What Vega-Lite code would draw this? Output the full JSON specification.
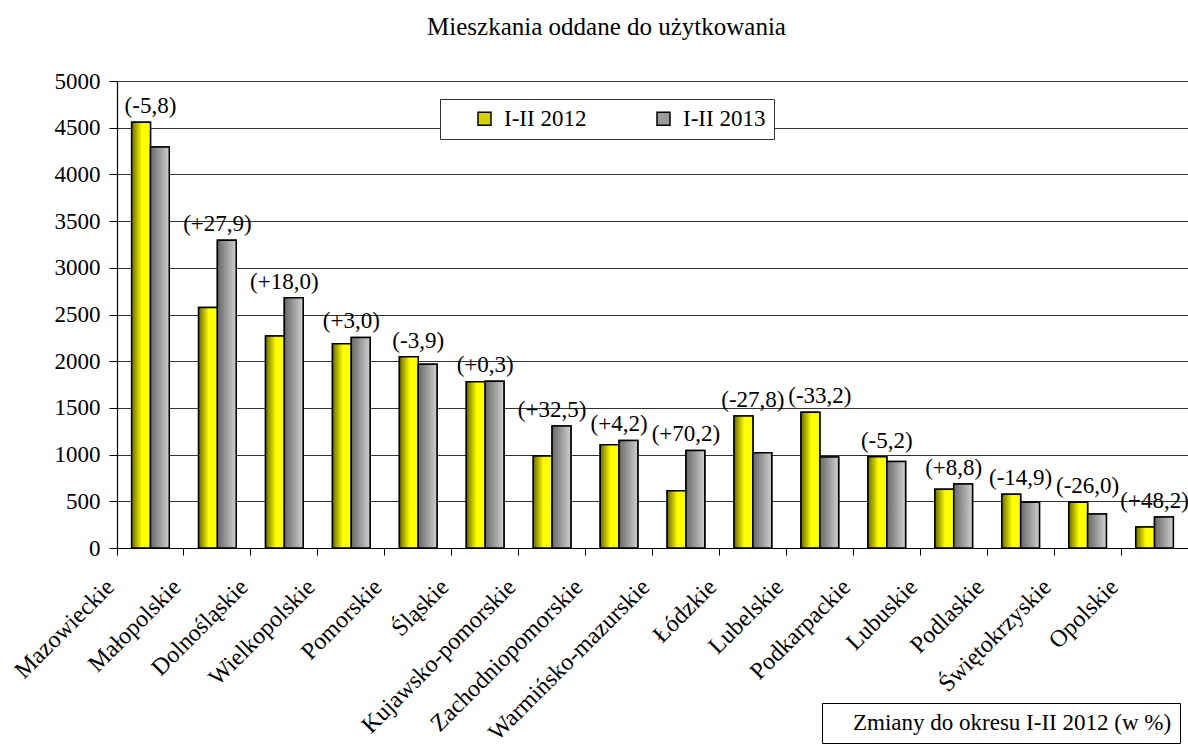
{
  "$schema": "https://vega.github.io/schema/vega-lite/v6.json",
  "width": 1071,
  "height": 467,
  "autosize": {"type": "none"},
  "padding": {"left": 117, "top": 81, "right": 0, "bottom": 201},
  "background": "white",
  "config": {
    "view": {"stroke": null},
    "font": "Liberation Serif",
    "text": {"font": "Liberation Serif"},
    "axis": {"labelFont": "Liberation Serif", "titleFont": "Liberation Serif"},
    "legend": {"labelFont": "Liberation Serif", "titleFont": "Liberation Serif"}
  },
  "title": {
    "text": "Mieszkania oddane do użytkowania",
    "font": "Liberation Serif",
    "fontSize": 25,
    "fontWeight": "normal",
    "color": "black",
    "anchor": "middle",
    "baseline": "alphabetic",
    "offset": 10,
    "dx": -46
  },
  "data": {
    "values": [
      {"region": "Mazowieckie", "y2012": 4558, "y2013": 4294, "change": "(-5,8)"},
      {"region": "Małopolskie", "y2012": 2575, "y2013": 3294, "change": "(+27,9)"},
      {"region": "Dolnośląskie", "y2012": 2270, "y2013": 2679, "change": "(+18,0)"},
      {"region": "Wielkopolskie", "y2012": 2188, "y2013": 2254, "change": "(+3,0)"},
      {"region": "Pomorskie", "y2012": 2048, "y2013": 1968, "change": "(-3,9)"},
      {"region": "Śląskie", "y2012": 1781, "y2013": 1786, "change": "(+0,3)"},
      {"region": "Kujawsko-pomorskie", "y2012": 985, "y2013": 1305, "change": "(+32,5)"},
      {"region": "Zachodniopomorskie", "y2012": 1106, "y2013": 1152, "change": "(+4,2)"},
      {"region": "Warmińsko-mazurskie", "y2012": 614, "y2013": 1045, "change": "(+70,2)"},
      {"region": "Łódzkie", "y2012": 1413, "y2013": 1020, "change": "(-27,8)"},
      {"region": "Lubelskie", "y2012": 1453, "y2013": 975, "change": "(-33,2)"},
      {"region": "Podkarpackie", "y2012": 978, "y2013": 927, "change": "(-5,2)"},
      {"region": "Lubuskie", "y2012": 630, "y2013": 685, "change": "(+8,8)"},
      {"region": "Podlaskie", "y2012": 575, "y2013": 489, "change": "(-14,9)"},
      {"region": "Świętokrzyskie", "y2012": 490, "y2013": 363, "change": "(-26,0)"},
      {"region": "Opolskie", "y2012": 225, "y2013": 333, "change": "(+48,2)"}
    ]
  },
  "encoding": {
    "x": {
      "field": "region",
      "type": "nominal",
      "sort": null,
      "scale": {"paddingInner": 0, "paddingOuter": 0},
      "axis": {
        "title": null,
        "bandPosition": 0,
        "labelAngle": -45,
        "labelAlign": "right",
        "labelBaseline": "middle",
        "labelFont": "Liberation Serif",
        "labelFontSize": 24,
        "labelColor": "black",
        "labelPadding": 28,
        "labelOffset": -40,
        "labelOverlap": false,
        "labelLimit": 400,
        "domainColor": "black",
        "domainWidth": 1.2,
        "tickColor": "black",
        "tickSize": 7,
        "grid": false
      }
    }
  },
  "layer": [
    {
      "transform": [
        {"fold": ["y2012", "y2013"], "as": ["key", "value"]},
        {"calculate": "datum.key === 'y2012' ? 'I-II 2012' : 'I-II 2013'", "as": "series"}
      ],
      "mark": {"type": "bar", "stroke": "black", "strokeWidth": 1.5},
      "encoding": {
        "xOffset": {
          "field": "series",
          "type": "nominal",
          "scale": {"domain": ["I-II 2012", "I-II 2013"], "paddingInner": 0, "paddingOuter": 0.78}
        },
        "y": {
          "field": "value",
          "type": "quantitative",
          "scale": {"domain": [0, 5000], "nice": false},
          "axis": {
            "title": null,
            "values": [0, 500, 1000, 1500, 2000, 2500, 3000, 3500, 4000, 4500, 5000],
            "format": "d",
            "labelFont": "Liberation Serif",
            "labelFontSize": 23,
            "labelColor": "black",
            "labelPadding": 9,
            "domainColor": "black",
            "domainWidth": 1.2,
            "tickColor": "black",
            "tickSize": 8,
            "grid": true,
            "gridColor": "#333333",
            "gridWidth": 1
          }
        },
        "color": {
          "field": "series",
          "type": "nominal",
          "scale": {
            "domain": ["I-II 2012", "I-II 2013"],
            "range": ["#d2d200", "#9c9c9c"]
          },
          "legend": {
            "title": null,
            "orient": "none",
            "legendX": 323,
            "legendY": 18,
            "direction": "horizontal",
            "fillColor": "white",
            "strokeColor": "#333333",
            "padding": 8,
            "symbolOffset": 25,
            "columnPadding": 40,
            "symbolType": "square",
            "symbolSize": 169,
            "symbolStrokeColor": "black",
            "symbolStrokeWidth": 1.5,
            "labelFont": "Liberation Serif",
            "labelFontSize": 23,
            "labelColor": "black",
            "labelOffset": 8
          }
        }
      }
    },
    {
      "transform": [
        {"fold": ["y2012"], "as": ["key", "value"]},
        {"calculate": "'I-II 2012'", "as": "series"}
      ],
      "mark": {
        "type": "bar",
        "stroke": "black",
        "strokeWidth": 1.5,
        "color": {"gradient": "linear", "x1": 0, "x2": 1, "y1": 0, "y2": 0,
          "stops": [{"offset": 0, "color": "#6a6a00"}, {"offset": 0.55, "color": "#ffff00"}, {"offset": 1, "color": "#ffff00"}]}
      },
      "encoding": {
        "xOffset": {"field": "series", "type": "nominal"},
        "y": {"field": "value", "type": "quantitative"}
      }
    },
    {
      "transform": [
        {"fold": ["y2013"], "as": ["key", "value"]},
        {"calculate": "'I-II 2013'", "as": "series"}
      ],
      "mark": {
        "type": "bar",
        "stroke": "black",
        "strokeWidth": 1.5,
        "color": {"gradient": "linear", "x1": 0, "x2": 1, "y1": 0, "y2": 0,
          "stops": [{"offset": 0, "color": "#686868"}, {"offset": 1, "color": "#d0d0d0"}]}
      },
      "encoding": {
        "xOffset": {"field": "series", "type": "nominal"},
        "y": {"field": "value", "type": "quantitative"}
      }
    },
    {
      "transform": [
        {"calculate": "max(datum.y2012, datum.y2013)", "as": "top"}
      ],
      "mark": {"type": "text", "baseline": "middle", "dy": -16, "font": "Liberation Serif", "fontSize": 23, "color": "black"},
      "encoding": {
        "y": {"field": "top", "type": "quantitative"},
        "text": {"field": "change", "type": "nominal"}
      }
    },
    {
      "mark": {"type": "point", "opacity": 0},
      "encoding": {
        "y": {"field": "y2012", "type": "quantitative"},
        "shape": {
          "datum": "Zmiany do okresu I-II 2012 (w %)",
          "legend": {
            "title": null,
            "orient": "none",
            "legendX": 705,
            "legendY": 622,
            "fillColor": "white",
            "strokeColor": "black",
            "padding": 8,
            "symbolSize": 0,
            "symbolOpacity": 0,
            "symbolStrokeWidth": 0,
            "labelOffset": 0,
            "labelLimit": 600,
            "labelFont": "Liberation Serif",
            "labelFontSize": 23,
            "labelColor": "black"
          }
        }
      }
    }
  ]
}
